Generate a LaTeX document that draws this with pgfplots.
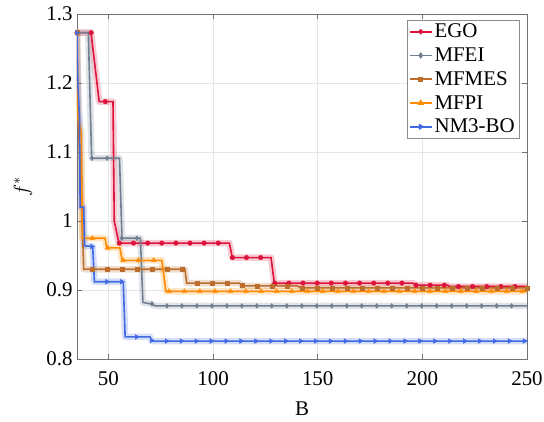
\documentclass[border=0pt]{standalone}
\usepackage{fontspec}
\setmainfont{Liberation Serif}
\usepackage{pgfplots}
\pgfplotsset{compat=1.18}
\usepackage{pgfplotstable}

\definecolor{egoc}{RGB}{220,20,60}
\definecolor{mfeic}{RGB}{112,128,144}
\definecolor{mfmesc}{RGB}{188,110,45}
\definecolor{mfpic}{RGB}{255,140,0}
\definecolor{nmc}{RGB}{65,105,225}

% step curves (mean)
\pgfplotstableread{
x y
35 1.273
41.7 1.273
45.6 1.173
52.2 1.173
52.8 1.0
55 0.968
107.8 0.968
109.2 0.947
127.7 0.947
129.3 0.910
195.5 0.910
197 0.907
212 0.907
213 0.905
250 0.905
}\egoline
\pgfplotstableread{
x y
35 1.273
40.4 1.273
42 1.091
55.3 1.091
56.5 0.975
65.3 0.975
66.5 0.882
70 0.880
72.5 0.877
250 0.877
}\mfeiline
\pgfplotstableread{
x y
35 1.273
35.4 1.16
37.5 1.0
38.2 0.930
86.6 0.930
87.4 0.910
112.5 0.910
114 0.906
140 0.906
142 0.903
250 0.903
}\mfmesline
\pgfplotstableread{
x y
35 1.273
35.3 1.15
37 1.13
37.6 0.975
48.4 0.975
49.2 0.961
55.5 0.961
56.6 0.943
75.5 0.943
77.5 0.898
250 0.898
}\mfpiline
\pgfplotstableread{
x y
35 1.273
35.4 1.20
36.2 1.15
36.5 1.02
38.2 1.02
38.6 0.964
42.5 0.963
43.3 0.912
57.1 0.912
58 0.832
69.9 0.832
70.7 0.826
250 0.826
}\nmline

\begin{document}
\begin{tikzpicture}
\begin{axis}[
  width=450bp, height=345bp, scale only axis,
  xmin=35, xmax=250, ymin=0.8, ymax=1.3,
  xtick={50,100,150,200,250},
  ytick={0.8,0.9,1,1.1,1.2,1.3},
  grid=major, grid style={black!10, line width=0.5bp},
  axis line style={black!55, line width=0.6bp},
  tick style={black!55, line width=0.6bp},
  major tick length=5bp,
  tick label style={font=\fontsize{21}{24}\selectfont},
  xticklabel style={yshift=-9bp},
  yticklabel style={xshift=-1bp},
  /pgf/number format/assume math mode=true,
  xlabel={B}, ylabel={$f^*$},
  label style={font=\fontsize{21}{24}\selectfont},
  xlabel style={at={(axis description cs:0.5,-0.145)}, anchor=center},
  ylabel style={at={(axis description cs:-0.12,0.5)}, anchor=center},
  legend cell align=left,
  legend style={at={(0.982,0.983)}, anchor=north east, draw=black!45, fill=white,
    font=\fontsize{21}{24}\selectfont, inner sep=2bp, row sep=4.5bp},
  legend image code/.code={\draw[mark repeat=2,mark phase=2,#1] plot coordinates {(0bp,0bp) (11bp,0bp) (22bp,0bp)};},
]
\coordinate (sw) at (rel axis cs:0,0);
\coordinate (ne) at (rel axis cs:1,1);

% bands
\addplot[egoc, line width=6.5bp, opacity=0.22, line join=round, forget plot] table {\egoline};
\addplot[mfeic, line width=6.5bp, opacity=0.22, line join=round, forget plot] table {\mfeiline};
\addplot[mfmesc, line width=6.5bp, opacity=0.22, line join=round, forget plot] table {\mfmesline};
\addplot[mfpic, line width=6.5bp, opacity=0.22, line join=round, forget plot] table {\mfpiline};
\addplot[nmc, line width=6.5bp, opacity=0.22, line join=round, forget plot] table {\nmline};

% EGO
\addplot[egoc, line width=1.6bp, forget plot] table {\egoline};
\addplot[egoc, only marks, mark=*, mark size=2.3bp, forget plot] coordinates {
(35,1.273) (41.75,1.273) (48.5,1.173) (55.25,0.968) (62,0.968) (68.75,0.968) (75.5,0.968)
(82.25,0.968) (89,0.968) (95.75,0.968) (102.5,0.968) (109.25,0.947) (116,0.947) (122.75,0.947)
(129.5,0.910) (136.25,0.910) (143,0.910) (149.75,0.910) (156.5,0.910) (163.25,0.910) (170,0.910)
(176.75,0.910) (183.5,0.910) (190.25,0.910) (197,0.907) (203.75,0.907) (210.5,0.907)
(217.25,0.905) (224,0.905) (230.75,0.905) (237.5,0.905) (244.25,0.905)};

% MFEI
\addplot[mfeic, line width=1.6bp, forget plot] table {\mfeiline};
\addplot[mfeic, only marks, mark=diamond*, mark size=2.4bp, forget plot] coordinates {
(35,1.273) (42.16,1.091) (49.32,1.091) (56.48,0.975) (63.64,0.975) (70.8,0.880) (77.96,0.877)
(85.12,0.877) (92.28,0.877) (99.44,0.877) (106.6,0.877) (113.76,0.877) (120.92,0.877)
(128.08,0.877) (135.24,0.877) (142.4,0.877) (149.56,0.877) (156.72,0.877) (163.88,0.877)
(171.04,0.877) (178.2,0.877) (185.36,0.877) (192.52,0.877) (199.68,0.877) (206.84,0.877)
(214,0.877) (221.16,0.877) (228.32,0.877) (235.48,0.877) (242.64,0.877)};

% MFMES
\addplot[mfmesc, line width=1.6bp, forget plot] table {\mfmesline};
\addplot[mfmesc, only marks, mark=square*, mark size=2bp, forget plot] coordinates {
(35,1.273) (42.17,0.930) (49.33,0.930) (56.5,0.930) (63.67,0.930) (70.83,0.930) (78,0.930)
(85.17,0.930) (92.33,0.910) (99.5,0.910) (106.67,0.910) (113.83,0.907) (121,0.906)
(128.17,0.906) (135.33,0.906) (142.5,0.903) (149.67,0.903) (156.83,0.903) (164,0.903)
(171.17,0.903) (178.33,0.903) (185.5,0.903) (192.67,0.903) (199.83,0.903) (207,0.903)
(214.17,0.903) (221.33,0.903) (228.5,0.903) (235.67,0.903) (242.83,0.903) (250,0.903)};

% MFPI
\addplot[mfpic, line width=1.6bp, forget plot] table {\mfpiline};
\addplot[mfpic, only marks, mark=triangle*, mark size=2.7bp, forget plot] coordinates {
(35,1.273) (42.33,0.975) (49.67,0.961) (57,0.943) (64.33,0.943) (71.67,0.943) (79,0.898)
(86.33,0.898) (93.67,0.898) (101,0.898) (108.33,0.898) (115.67,0.898) (123,0.898)
(130.33,0.898) (137.67,0.898) (145,0.898) (152.33,0.898) (159.67,0.898) (167,0.898)
(174.33,0.898) (181.67,0.898) (189,0.898) (196.33,0.898) (203.67,0.898) (211,0.898)
(218.33,0.898) (225.67,0.898) (233,0.898) (240.33,0.898) (247.67,0.898)};

% NM3-BO
\addplot[nmc, line width=1.6bp, forget plot] table {\nmline};
\addplot[nmc, only marks, mark=triangle*, mark size=2.7bp, mark options={rotate=-90}, forget plot] coordinates {
(35,1.273) (42.125,0.963) (49.25,0.912) (56.375,0.912) (63.5,0.832) (70.625,0.827)
(77.75,0.826) (84.875,0.826) (92,0.826) (99.125,0.826) (106.25,0.826) (113.375,0.826)
(120.5,0.826) (127.625,0.826) (134.75,0.826) (141.875,0.826) (149,0.826) (156.125,0.826)
(163.25,0.826) (170.375,0.826) (177.5,0.826) (184.625,0.826) (191.75,0.826) (198.875,0.826)
(206,0.826) (213.125,0.826) (220.25,0.826) (227.375,0.826) (234.5,0.826) (241.625,0.826)
(248.75,0.826)};

\addlegendimage{egoc, line width=1.6bp, mark=*, mark size=1.8bp}
\addlegendentry{EGO}
\addlegendimage{mfeic, line width=1.6bp, mark=diamond*, mark size=2bp}
\addlegendentry{MFEI}
\addlegendimage{mfmesc, line width=1.6bp, mark=square*, mark size=1.6bp}
\addlegendentry{MFMES}
\addlegendimage{mfpic, line width=1.6bp, mark=triangle*, mark size=2.2bp}
\addlegendentry{MFPI}
\addlegendimage{nmc, line width=1.6bp, mark=triangle*, mark size=2.2bp, mark options={rotate=-90}}
\addlegendentry{NM3-BO}
\end{axis}
\pgfresetboundingbox
\useasboundingbox ([shift={(-77bp,-63bp)}]sw) rectangle ([shift={(17bp,14bp)}]ne);
\end{tikzpicture}
\end{document}
